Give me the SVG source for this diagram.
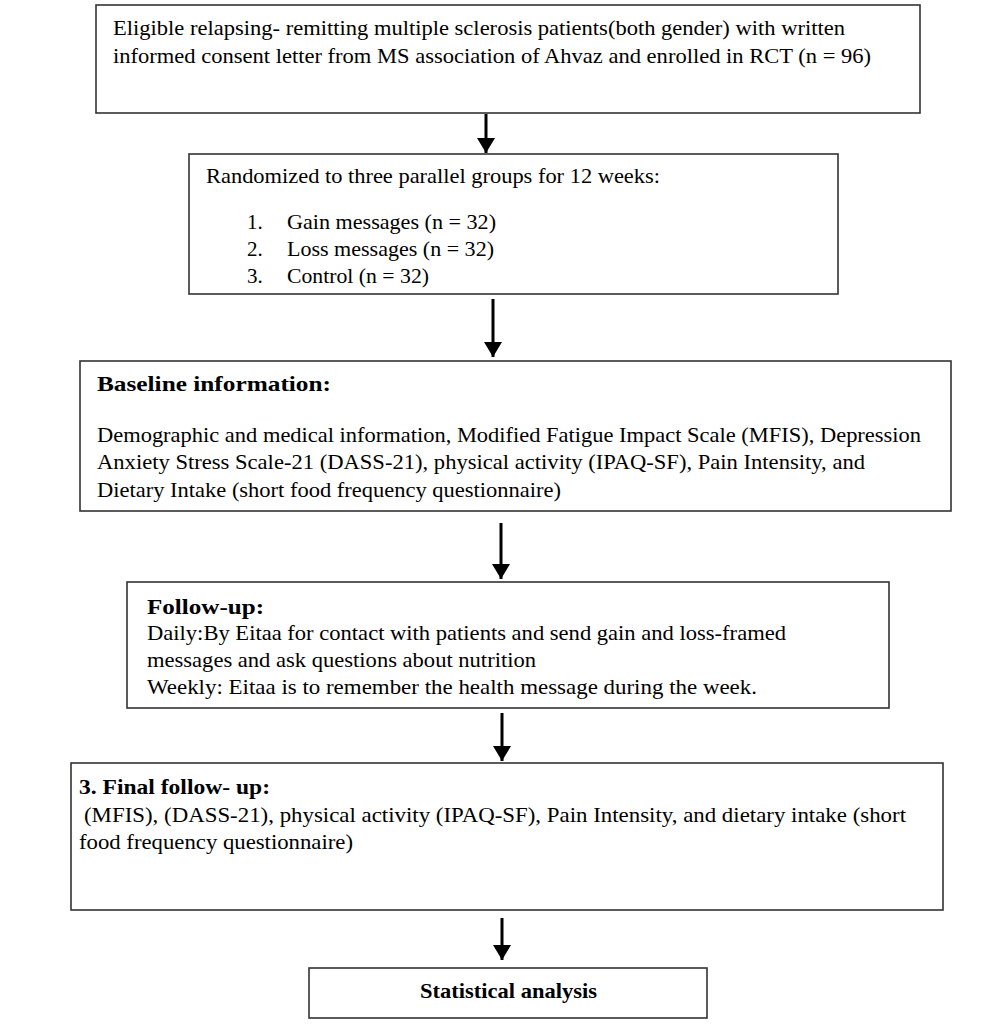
<svg xmlns="http://www.w3.org/2000/svg" width="1000" height="1026" viewBox="0 0 1000 1026">
<style>
.box{fill:#fff;stroke:#333;stroke-width:1.6}
.t{font-family:"Liberation Serif","Times New Roman",serif;font-size:21px;fill:#000}
.b{font-family:"Liberation Serif","Times New Roman",serif;font-size:21px;font-weight:bold;fill:#000}
.c{stroke:#000;stroke-width:3;fill:none}
</style>
<defs>
<marker id="ah" markerWidth="5" markerHeight="6" refX="5" refY="3" orient="auto" markerUnits="strokeWidth">
<path d="M0,0 L5,3 L0,6 Z" fill="#000"/>
</marker>
</defs>
<rect width="1000" height="1026" fill="#fff"/>
<g id="n1">
<rect class="box" x="96" y="5" width="824" height="108"/>
<text class="t" x="113" y="35" textLength="732" lengthAdjust="spacingAndGlyphs">Eligible relapsing- remitting multiple sclerosis patients(both gender) with written</text>
<text class="t" x="113" y="63" textLength="758" lengthAdjust="spacingAndGlyphs">informed consent letter from MS association of Ahvaz and enrolled in RCT (n = 96)</text>
</g>
<g id="n2">
<rect class="box" x="189" y="154" width="649" height="140"/>
<text class="t" x="206" y="183" textLength="454" lengthAdjust="spacingAndGlyphs">Randomized to three parallel groups for 12 weeks:</text>
<text class="t" x="247" y="229">1.</text>
<text class="t" x="287" y="229" textLength="209" lengthAdjust="spacingAndGlyphs">Gain messages (n = 32)</text>
<text class="t" x="247" y="256">2.</text>
<text class="t" x="287" y="256" textLength="207" lengthAdjust="spacingAndGlyphs">Loss messages (n = 32)</text>
<text class="t" x="247" y="283">3.</text>
<text class="t" x="287" y="283" textLength="142" lengthAdjust="spacingAndGlyphs">Control (n = 32)</text>
</g>
<g id="n3">
<rect class="box" x="80" y="361" width="871" height="150"/>
<text class="b" x="97" y="391" textLength="234" lengthAdjust="spacingAndGlyphs">Baseline information:</text>
<text class="t" x="97" y="442" textLength="824" lengthAdjust="spacingAndGlyphs">Demographic and medical information, Modified Fatigue Impact Scale (MFIS), Depression</text>
<text class="t" x="97" y="469" textLength="768" lengthAdjust="spacingAndGlyphs">Anxiety Stress Scale-21 (DASS-21), physical activity (IPAQ-SF), Pain Intensity, and</text>
<text class="t" x="97" y="497" textLength="464" lengthAdjust="spacingAndGlyphs">Dietary Intake (short food frequency questionnaire)</text>
</g>
<g id="n4">
<rect class="box" x="127" y="582" width="762" height="126"/>
<text class="b" x="147" y="614" textLength="117" lengthAdjust="spacingAndGlyphs">Follow-up:</text>
<text class="t" x="147" y="640" textLength="639" lengthAdjust="spacingAndGlyphs">Daily:By Eitaa for contact with patients and send gain and loss-framed</text>
<text class="t" x="147" y="667" textLength="389" lengthAdjust="spacingAndGlyphs">messages and ask questions about nutrition</text>
<text class="t" x="147" y="694" textLength="610" lengthAdjust="spacingAndGlyphs">Weekly: Eitaa is to remember the health message during the week.</text>
</g>
<g id="n5">
<rect class="box" x="71" y="763" width="872" height="147"/>
<text class="b" x="79" y="794" textLength="191" lengthAdjust="spacingAndGlyphs">3. Final follow- up:</text>
<text class="t" x="84" y="822" textLength="822" lengthAdjust="spacingAndGlyphs">(MFIS), (DASS-21), physical activity (IPAQ-SF), Pain Intensity, and dietary intake (short</text>
<text class="t" x="79" y="849" textLength="274" lengthAdjust="spacingAndGlyphs">food frequency questionnaire)</text>
</g>
<g id="n6">
<rect class="box" x="309" y="968" width="398" height="50"/>
<text class="b" x="420" y="998" textLength="177" lengthAdjust="spacingAndGlyphs">Statistical analysis</text>
</g>
<g id="connectors">
<line class="c" x1="486" y1="114" x2="486" y2="153" marker-end="url(#ah)"/>
<line class="c" x1="493" y1="299" x2="493" y2="357" marker-end="url(#ah)"/>
<line class="c" x1="501" y1="523" x2="501" y2="579" marker-end="url(#ah)"/>
<line class="c" x1="502" y1="713" x2="502" y2="761" marker-end="url(#ah)"/>
<line class="c" x1="502" y1="918" x2="502" y2="960" marker-end="url(#ah)"/>
</g>
</svg>
